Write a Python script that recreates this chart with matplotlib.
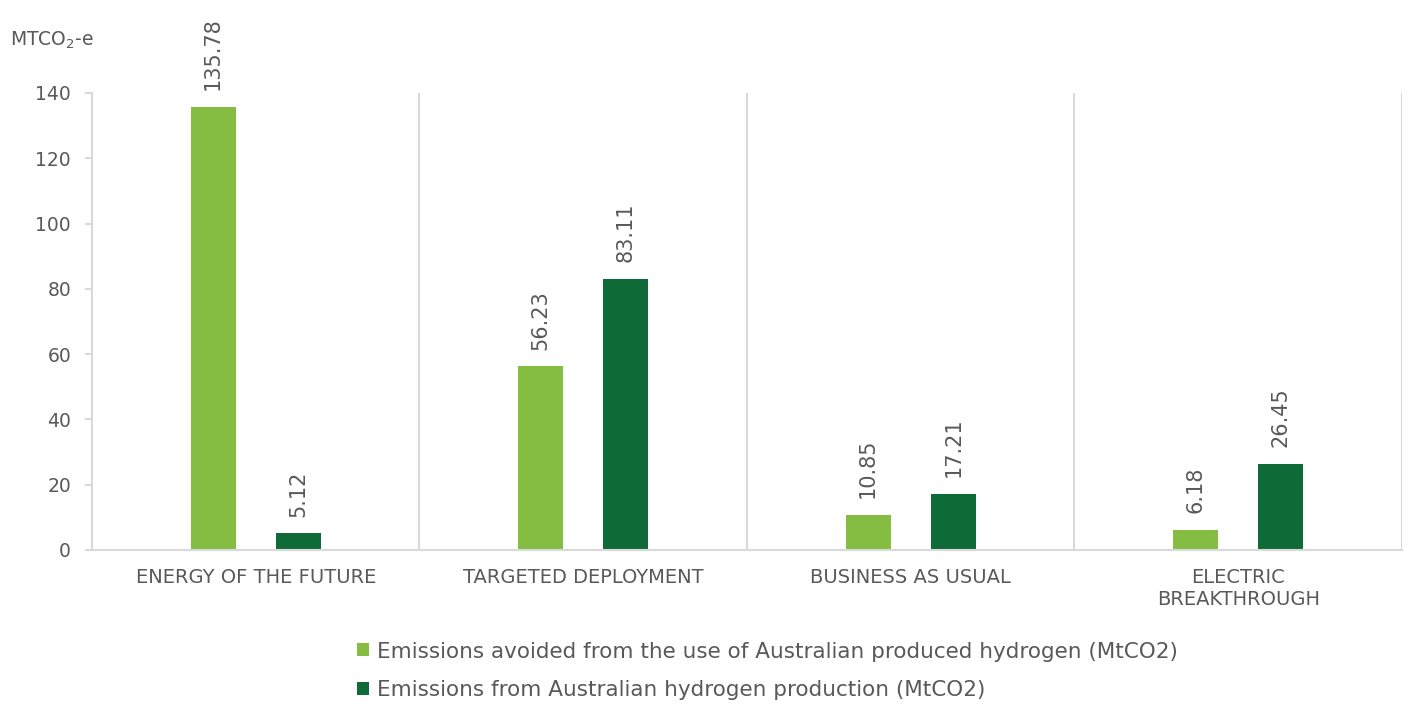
import numpy as np
import matplotlib
matplotlib.use("Agg")
import matplotlib.pyplot as plt

# Scenario data (MtCO2)
scenarios = ["ENERGY OF THE FUTURE", "TARGETED DEPLOYMENT",
             "BUSINESS AS USUAL", "ELECTRIC\nBREAKTHROUGH"]
avoided = [135.78, 56.23, 10.85, 6.18]
produced = [5.12, 83.11, 17.21, 26.45]
series_names = ["Emissions avoided from the use of Australian produced hydrogen (MtCO2)",
                "Emissions from Australian hydrogen production (MtCO2)"]
yticks = [0, 20, 40, 60, 80, 100, 120, 140]

light_green = "#84BD41"
dark_green = "#0E6B38"
text_grey = "#595959"
axis_grey = "#D9D9D9"

plt.rcParams['font.family'] = ['DejaVu Sans']

fig = plt.figure(figsize=(14.08, 7.06), dpi=100)
ax = fig.add_axes([0.0653, 0.221, 0.9304, 0.6473])

x = np.arange(len(scenarios))
w = 0.137
off = 0.13
b1 = ax.bar(x - off, avoided, w, color=light_green, label=series_names[0])
b2 = ax.bar(x + off, produced, w, color=dark_green, label=series_names[1])

# rotated value labels above each bar
for bars, vals in ((b1, avoided), (b2, produced)):
    for rect, v in zip(bars, vals):
        ax.annotate("%.2f" % v, (rect.get_x() + rect.get_width() / 2, v),
                    xytext=(0, 12), textcoords="offset points",
                    rotation=90, ha="center", va="bottom",
                    fontsize=15, color=text_grey)

# category separators
for sep in np.arange(0.5, len(scenarios), 1.0):
    ax.axvline(sep, color=axis_grey, lw=1.5, zorder=0)

ax.set_xlim(-0.5, len(scenarios) - 0.5)
ax.set_ylim(0, 140)
ax.set_yticks(yticks)
ax.set_xticks(x)
ax.set_xticklabels(scenarios, fontsize=14, color=text_grey, linespacing=1.2)
ax.tick_params(axis="x", length=0, pad=13)
ax.tick_params(axis="y", length=5, width=1.5, color=axis_grey,
               labelsize=13.5, labelcolor=text_grey, pad=10)

for side in ("top", "right"):
    ax.spines[side].set_visible(False)
for side in ("left", "bottom"):
    ax.spines[side].set_color(axis_grey)
    ax.spines[side].set_linewidth(1.5)

fig.text(0.007, 0.943, r"MTCO$_2$-e", fontsize=13.5, color=text_grey,
         ha="left", va="center")

fig.legend(handles=[b1, b2], loc="center", bbox_to_anchor=(0.545, 0.05),
           frameon=False, ncol=1, fontsize=15.5, labelcolor=text_grey,
           handlelength=0.55, handleheight=0.55, handletextpad=0.4,
           labelspacing=0.85)

fig.savefig("out.png", dpi=100)
